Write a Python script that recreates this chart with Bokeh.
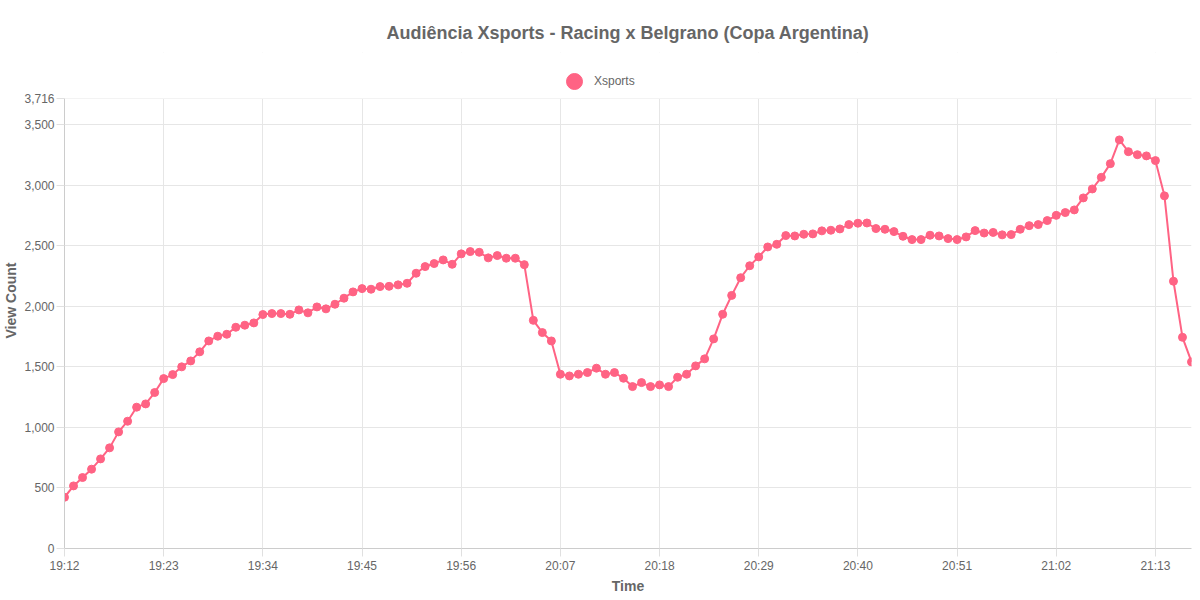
import pandas as pd
from bokeh.plotting import figure
from bokeh.models import (ColumnDataSource, Range1d, FixedTicker, DatetimeTickFormatter,
                          NumeralTickFormatter, Legend, LegendItem, BoxAnnotation)
from bokeh.embed import file_html
from bokeh.resources import INLINE

# one reading per minute starting at 19:12
start_time = "2024-01-01 19:12"
views = [
    423, 517, 586, 655, 740, 831, 963, 1051, 1167, 1194,
    1288, 1403, 1436, 1500, 1549, 1624, 1714, 1753, 1769, 1827,
    1844, 1863, 1932, 1940, 1940, 1934, 1970, 1946, 1995, 1979,
    2017, 2067, 2119, 2146, 2141, 2163, 2165, 2177, 2190, 2273,
    2328, 2353, 2383, 2347, 2433, 2452, 2446, 2400, 2419, 2397,
    2397, 2344, 1884, 1783, 1714, 1439, 1425, 1439, 1453, 1489,
    1439, 1453, 1406, 1337, 1370, 1337, 1351, 1337, 1414, 1439,
    1508, 1566, 1731, 1934, 2090, 2236, 2335, 2408, 2490, 2512,
    2584, 2581, 2595, 2598, 2623, 2628, 2639, 2675, 2686, 2688,
    2642, 2636, 2617, 2578, 2551, 2551, 2587, 2581, 2559, 2551,
    2573, 2625, 2605, 2610, 2590, 2592, 2636, 2666, 2675, 2708,
    2751, 2774, 2796, 2895, 2969, 3065, 3178, 3374, 3277, 3252,
    3242, 3203, 2912, 2207, 1744, 1541,
]
tick_labels = ["19:12", "19:23", "19:34", "19:45", "19:56", "20:07",
               "20:18", "20:29", "20:40", "20:51", "21:02", "21:13"]
y_ticks = [0, 500, 1000, 1500, 2000, 2500, 3000, 3500, 3716]
y_max = 3716

pink = "#FF6384"
grey = "#666666"
font = "Liberation Sans"

# the frame reaches above the value axis to leave room for the legend
chart_h = 450
legend_room = 46
y_top = y_max * (chart_h + legend_room) / chart_h

times = pd.date_range(start_time, periods=len(views), freq="1min")
source = ColumnDataSource(data=dict(time=times, views=views))

day = start_time.split(" ")[0]
x_ticks = [pd.Timestamp(f"{day} {t}").value // 10**6 for t in tick_labels]

p = figure(
    width=None, height=None,
    frame_width=1127, frame_height=chart_h + legend_room,
    x_axis_type="datetime",
    x_range=Range1d(times[0], times[-1]),
    y_range=Range1d(0, y_top),
    output_backend="svg", toolbar_location=None,
    min_border_left=62, min_border_right=1, min_border_bottom=40, min_border_top=52,
)
p.outline_line_color = None

p.title.text = "Audiência Xsports - Racing x Belgrano (Copa Argentina)"
p.title.align = "center"
p.title.text_font = font
p.title.text_font_size = "18px"
p.title.text_color = grey
p.title.text_font_style = "bold"
p.title.standoff = 20

line = p.line("time", "views", source=source, color=pink, line_width=2)
pts = p.scatter("time", "views", source=source, size=8, color=pink)

# axes
p.xaxis.ticker = FixedTicker(ticks=x_ticks)
p.xaxis.formatter = DatetimeTickFormatter(
    minsec="%H:%M", minutes="%H:%M", hourmin="%H:%M", hours="%H:%M", days="%H:%M")
p.yaxis.ticker = FixedTicker(ticks=y_ticks)
p.yaxis.formatter = NumeralTickFormatter(format="0,0")
p.yaxis.bounds = (0, y_max)
p.xaxis.axis_label = "Time"
p.yaxis.axis_label = "View Count"

for ax in (p.xaxis, p.yaxis):
    ax.axis_label_text_font = font
    ax.axis_label_text_font_size = "14px"
    ax.axis_label_text_font_style = "bold"
    ax.axis_label_text_color = grey
    ax.major_label_text_font = font
    ax.major_label_text_font_size = "12px"
    ax.major_label_text_color = grey
    ax.axis_line_color = "#cccccc"
    ax.major_tick_line_color = "#e0e0e0"
    ax.major_tick_out = 8
    ax.major_tick_in = 0
    ax.minor_tick_line_color = None
    ax.major_label_standoff = 2
    ax.axis_label_standoff = 2

p.xgrid.grid_line_color = "#e6e6e6"
p.ygrid.grid_line_color = "#e6e6e6"

# hide the vertical grid above the top tick
p.add_layout(BoxAnnotation(bottom=y_max, fill_color="white", fill_alpha=1,
                           line_color=None, level="underlay"))

legend = Legend(
    items=[LegendItem(label="Xsports", renderers=[pts])],
    location=(490, chart_h + legend_room - 52),
    orientation="horizontal",
    glyph_width=40, glyph_height=46,
    label_standoff=0,
    label_text_font=font, label_text_font_size="12px", label_text_color=grey,
    background_fill_alpha=0, border_line_color=None,
    padding=0, margin=0, spacing=0,
)
p.add_layout(legend, "center")

open("out.html", "w").write(file_html(p, INLINE))
